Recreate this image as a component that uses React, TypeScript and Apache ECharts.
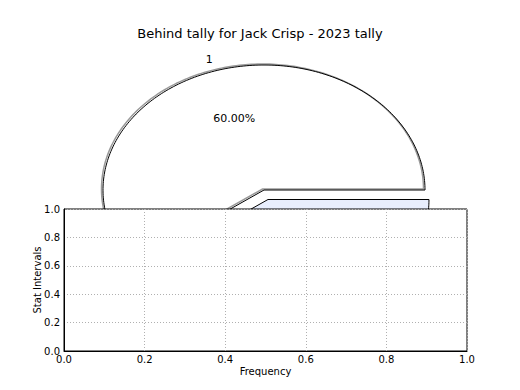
import React, { useEffect, useRef } from "react";
import * as echarts from "echarts";

const titleText = "Behind tally for Jack Crisp - 2023 tally";
const pieLabels = ["1", "2"];
const pieValues = [0.6, 0.4];
const pieExplode = [0, 0.08];
const pieColors = ["#ffffff", "#e8eefd"];
const pieShadow = [true, false];
const xName = "Frequency";
const yName = "Stat Intervals";

const FONT = "DejaVu Sans";

export default function App() {
  const ref = useRef<HTMLDivElement>(null);
  useEffect(() => {
    const chart = echarts.init(ref.current!, null, { renderer: "svg" });
    const cx = 264, cy = 190, rx = 161, ry = 125;
    const total = pieValues.reduce((a, b) => a + b, 0);
    const norm = total > 1 ? total : 1;

    const renderItem = (params: any, api: any) => {
      const i = params.dataIndex;
      let start = 0;
      for (let k = 0; k < i; k++) start += (pieValues[k] / norm) * 360;
      const end = start + (pieValues[i] / norm) * 360;
      const mid = ((start + end) / 2) * Math.PI / 180;
      const ex = pieExplode[i];
      const ox = cx + ex * rx * Math.cos(mid);
      const oy = cy - ex * ry * Math.sin(mid);
      const mk = (dx: number, dy: number) => {
        const pts: number[][] = [[ox + dx, oy + dy]];
        const steps = 200;
        for (let s = 0; s <= steps; s++) {
          const a = (start + (end - start) * s / steps) * Math.PI / 180;
          pts.push([ox + dx + rx * Math.cos(a), oy + dy - ry * Math.sin(a)]);
        }
        return pts;
      };
      const children: any[] = [
        { type: "polygon", shape: { points: mk(0, 0) }, style: { fill: pieColors[i], stroke: null } },
      ];
      if (pieShadow[i]) {
        children.push({ type: "polygon", shape: { points: mk(-1.5, -1) }, style: { fill: null, stroke: "#9a9a9a", lineWidth: 1.5 } });
      }
      children.push({ type: "polygon", shape: { points: mk(0, 0) }, style: { fill: null, stroke: "#000", lineWidth: 1 } });
      children.push({
        type: "text",
        x: ox + 1.1 * rx * Math.cos(mid),
        y: oy - 1.1 * ry * Math.sin(mid),
        style: { text: pieLabels[i], fill: "#000", font: `11px "${FONT}"`, align: "center", verticalAlign: "middle" },
      });
      children.push({
        type: "text",
        x: ox + 0.6 * rx * Math.cos(mid),
        y: oy - 0.6 * ry * Math.sin(mid),
        style: { text: ((pieValues[i] / norm) * 100).toFixed(2) + "%", fill: "#000", font: `11px "${FONT}"`, align: "center", verticalAlign: "middle" },
      });
      return { type: "group", children };
    };

    const axisCommon = {
      type: "value" as const,
      min: 0,
      max: 1,
      interval: 0.2,
      z: 4,
      nameLocation: "middle" as const,
      nameMoveOverlap: false,
      nameTextStyle: { fontFamily: FONT, fontSize: 10, color: "#000" },
      axisLine: { show: true, lineStyle: { color: "#000", width: 1 } },
      axisTick: { show: false },
      splitLine: { show: true, lineStyle: { color: "#b0b0b0", type: [1, 2] as any, width: 1 } },
    };

    chart.setOption({
      animation: false,
      backgroundColor: "#fff",
      title: {
        text: titleText,
        left: "center",
        top: 22,
        textStyle: { fontFamily: FONT, fontSize: 13, fontWeight: "normal", color: "#000" },
      },
      grid: {
        left: 64, top: 209, width: 403, height: 142,
        show: true, backgroundColor: "#fff", borderColor: "#000", borderWidth: 1, z: 3,
      },
      xAxis: {
        ...axisCommon,
        name: xName,
        nameGap: 15,
        axisLabel: { fontFamily: FONT, fontSize: 10, color: "#000", margin: 3, formatter: (v: number) => v.toFixed(1) },
      },
      yAxis: {
        ...axisCommon,
        name: yName,
        nameGap: 22,
        axisLabel: { fontFamily: FONT, fontSize: 10, color: "#000", margin: 4, formatter: (v: number) => v.toFixed(1) },
      },
      series: [
        {
          type: "custom",
          coordinateSystem: "none",
          z: 1,
          silent: true,
          renderItem,
          data: pieValues.map((v, i) => ({ value: v, name: pieLabels[i] })),
        },
      ],
    });
    return () => chart.dispose();
  }, []);
  return <div ref={ref} style={{ width: 520, height: 390, position: "fixed", left: 0, top: 0 }} />;
}
